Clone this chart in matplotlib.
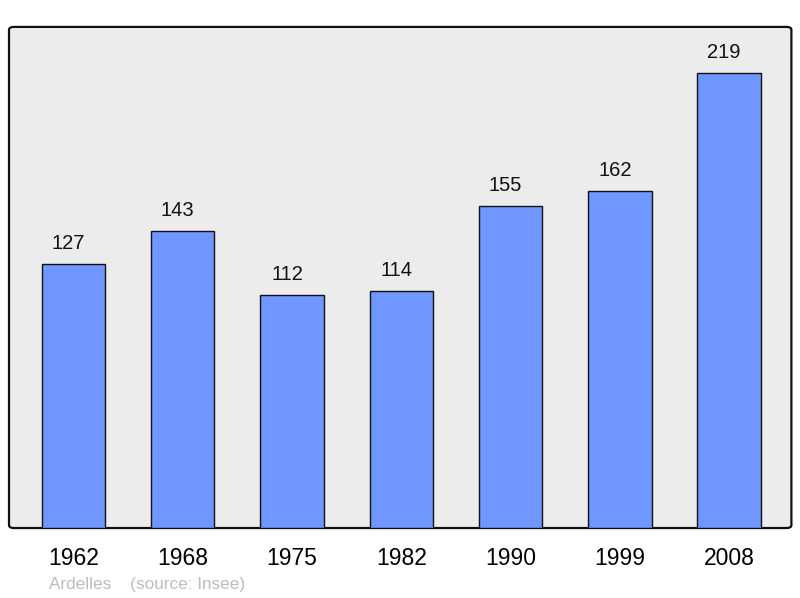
import matplotlib.pyplot as plt
from matplotlib.patches import FancyBboxPatch

# data
years = ['1962', '1968', '1975', '1982', '1990', '1999', '2008']
population = [127, 143, 112, 114, 155, 162, 219]

plt.rcParams['font.family'] = ['Liberation Sans', 'DejaVu Sans']

fig = plt.figure(figsize=(8, 5.98), dpi=100)
ax = fig.add_axes([0.01125, 0.117, 0.978, 0.838])
ax.patch.set_visible(False)
for s in ax.spines.values():
    s.set_visible(False)

# rounded frame
frame = FancyBboxPatch((0, 0), 1, 1, boxstyle='round,pad=0,rounding_size=0.006',
                       transform=ax.transAxes, facecolor='#ececec',
                       edgecolor='#111111', linewidth=1.6, zorder=0, clip_on=False)
ax.add_patch(frame)

x = range(len(years))
bars = ax.bar(x, population, width=0.58, color='#7097ff', edgecolor='#111111',
              linewidth=1.0, zorder=2)
# value labels sit a little left of the bar centre, as in the original
for xi, v in zip(x, population):
    ax.annotate(str(v), (xi, v), xytext=(-3.6, 8), textcoords='offset points',
                ha='center', va='bottom', fontsize=14.5, color='#111111')

ax.set_xlim(-0.59, 6.57)
ax.set_ylim(0, 241)
ax.set_yticks([])
ax.set_xticks(list(x))
ax.set_xticklabels(years, fontsize=16.5)
ax.tick_params(axis='x', length=0, pad=14)

fig.text(49 / 800, 1 - 584 / 598, 'Ardelles    (source: Insee)', fontsize=12.3,
         color='#bdbdbd', ha='left', va='center')

fig.savefig('out.png', dpi=100)
